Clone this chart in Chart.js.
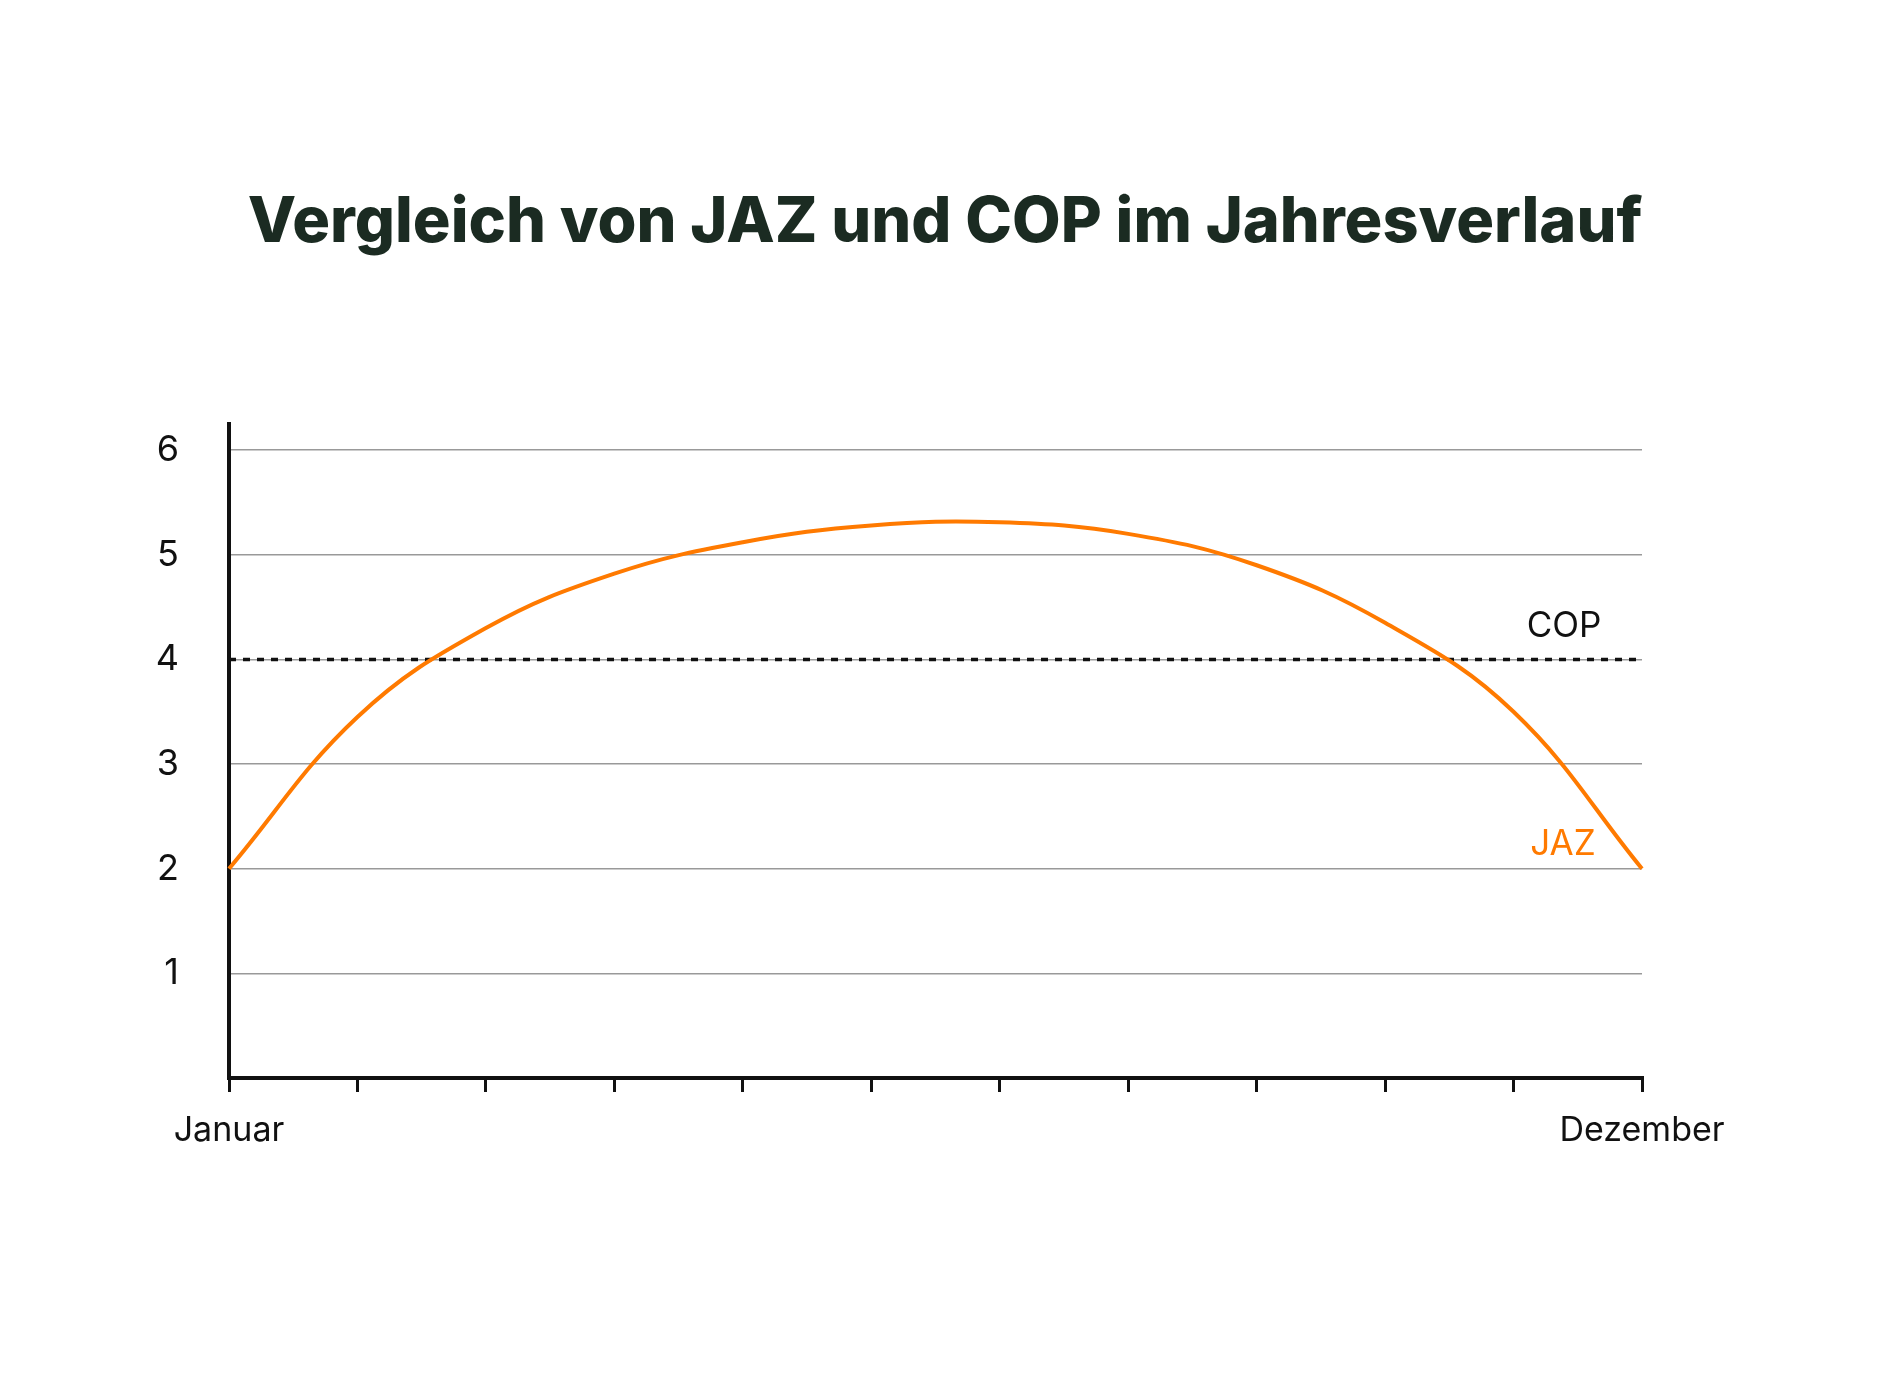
<!DOCTYPE html>
<html>
<head>
<meta charset="utf-8">
<script src="https://cdn.jsdelivr.net/npm/chart.js@4"></script>
<style>body{margin:0;background:#fff}</style>
</head>
<body>
<canvas id="c" width="1880" height="1400"></canvas>
<script>
// Monate Januar..Dezember, nur Anfang und Ende beschriftet
const months = ['Januar', '', '', '', '', '', '', '', '', '', '', 'Dezember'];
const jazValues = [2.0, 3.45, 4.3, 4.82, 5.12, 5.28, 5.31, 5.2, 4.9, 4.35, 3.5, 2.0];
const copValues = [4, 4, 4, 4, 4, 4, 4, 4, 4, 4, 4, 4];
const yTicks = [1, 2, 3, 4, 5, 6];

const ORANGE = '#ff7a00';

const overlay = {
    id: 'overlay',
    afterDraw(chart) {
        const { ctx, scales: { y } } = chart;
        ctx.save();
        ctx.fillStyle = '#1b2b22';
        ctx.font = '800 63px Inter';
        ctx.textAlign = 'center';
        ctx.textBaseline = 'middle';
        ctx.fillText('Vergleich von JAZ und COP im Jahresverlauf', 945, 223);
        ctx.font = '35px Inter';
        ctx.fillStyle = '#111';
        ctx.fillText('COP', 1564, y.getPixelForValue(4) - 33);
        ctx.fillStyle = ORANGE;
        ctx.fillText('JAZ', 1563, y.getPixelForValue(2) - 24);
        ctx.restore();
    }
};

new Chart(document.getElementById('c'), {
    type: 'line',
    data: {
        labels: months,
        datasets: [
            { label: 'JAZ', data: jazValues, borderColor: ORANGE, borderWidth: 4, pointRadius: 0, tension: 0.4 },
            { label: 'COP', data: copValues, borderColor: '#111', borderWidth: 3.5, borderDash: [7, 7], pointRadius: 0 },
        ],
    },
    options: {
        responsive: false,
        animation: false,
        layout: { padding: { left: 139, right: 238, top: 424, bottom: 242 } },
        plugins: { legend: { display: false }, tooltip: { enabled: false } },
        scales: {
            x: {
                afterFit: s => { s.height = 80; },
                border: { color: '#111', width: 4 },
                grid: { drawOnChartArea: false, color: '#111', lineWidth: 3, tickLength: 14 },
                ticks: { color: '#111', font: { family: 'Inter', size: 34 }, maxRotation: 0, autoSkip: false, padding: 18 },
            },
            y: {
                min: 0, max: 6.25,
                afterFit: s => { s.width = 90; },
                afterBuildTicks: s => { s.ticks = yTicks.map(v => ({ value: v })); },
                border: { color: '#111', width: 4 },
                grid: { color: '#999', lineWidth: 1.5, drawTicks: false },
                ticks: { color: '#111', font: { family: 'Inter', size: 36 }, padding: 50 },
            },
        },
    },
    plugins: [overlay],
});
</script>
</body>
</html>
